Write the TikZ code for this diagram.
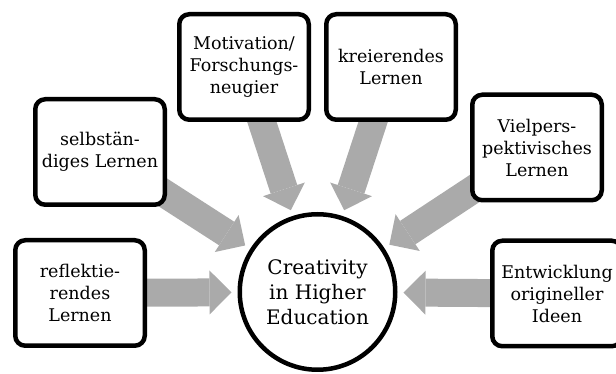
\documentclass[tikz,border=0pt]{standalone}
\usepackage{fontspec}
\setmainfont{DejaVu Serif}
\usetikzlibrary{arrows.meta,backgrounds}
\definecolor{arrowgray}{RGB}{170,170,170}

\begin{document}
\begin{tikzpicture}[x=1pt, y=1pt,
    box/.style={draw, line width=4.5pt, rounded corners=10pt, fill=white,
      minimum width=129.5pt, minimum height=105.5pt, inner sep=0pt, align=center,
      font=\fontsize{17.5}{22}\selectfont},
    hub/.style={circle, draw, line width=4.5pt, fill=white, minimum size=155.5pt,
      inner sep=0pt, align=center, font=\fontsize{20}{25}\selectfont},
    big arrow/.style={arrowgray, line width=28pt, shorten <=-30pt, shorten >=6pt,
      -{Triangle[length=22pt, width=44pt, line width=0pt]}}]
    \useasboundingbox (0,0) rectangle (616,374);

    % centre
    \node[hub] (CHE) at (317.5,82) {Creativity\\in Higher\\Education};

    % the six boxes around it
    \node[box] (refl) at (80,81)    {reflektie-\\rendes\\Lernen};
    \node[box] (selb) at (100,222)  {selbstän-\\diges Lernen};
    \node[box] (moti) at (244,307)  {Motivation/\\Forschungs-\\neugier};
    \node[box] (krei) at (391,307)  {kreierendes\\Lernen};
    \node[box] (viel) at (537,226.5) {Vielpers-\\pektivisches\\Lernen};
    \node[box] (entw) at (557,80.5) {Entwicklung\\origineller\\Ideen};

    % arrows go behind the boxes
    \begin{pgfonlayer}{background}
      \foreach \n in {refl,selb,moti,krei,viel,entw}{
        \draw[big arrow] (\n) -- (CHE);
      }
    \end{pgfonlayer}
\end{tikzpicture}
\end{document}
